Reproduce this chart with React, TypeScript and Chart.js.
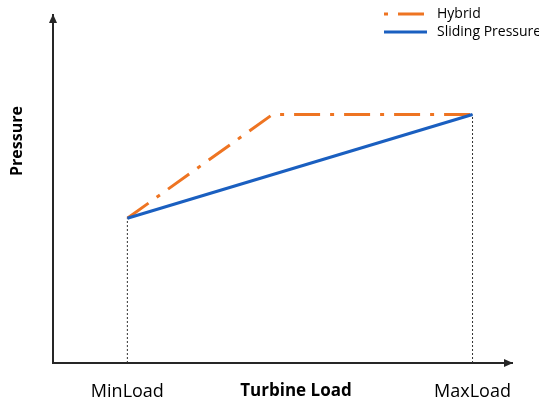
import React, { useEffect, useRef } from "react";
import { Chart, registerables } from "chart.js";

Chart.register(...registerables);

// ---- data ----
const xTickValues = [16.2, 91.4];
const xTickLabels = ["MinLoad", "MaxLoad"];
const hybridX = [16.2, 47.8, 91.4];
const hybridY = [41.6, 71.4, 71.4];
const slidingX = [16.2, 91.4];
const slidingY = [41.6, 71.4];
const seriesNames = ["Hybrid", "Sliding Pressure"];
const xTitle = "Turbine Load";
const yTitle = "Pressure";

const ORANGE = "#EE7422";
const BLUE = "#1A5FC0";
const AXIS = "#262626";
const HYBRID_DASH = [26, 10, 4, 10];
const FONT = "'Open Sans', 'Liberation Sans', sans-serif";

const decorPlugin = {
  id: "decor",
  afterDraw(chart: any) {
    const { ctx, chartArea } = chart;
    const { left, right, top, bottom } = chartArea;
    ctx.save();
    // arrow heads
    ctx.fillStyle = AXIS;
    ctx.beginPath();
    ctx.moveTo(left, top - 1);
    ctx.lineTo(left - 4, top + 8);
    ctx.lineTo(left + 4, top + 8);
    ctx.closePath();
    ctx.fill();
    ctx.beginPath();
    ctx.moveTo(right + 1, bottom);
    ctx.lineTo(right - 8, bottom - 4);
    ctx.lineTo(right - 8, bottom + 4);
    ctx.closePath();
    ctx.fill();

    // axis titles
    ctx.fillStyle = "#000";
    ctx.font = `bold 17px ${FONT}`;
    ctx.textAlign = "center";
    ctx.textBaseline = "middle";
    ctx.fillText(xTitle, 296, 391);
    ctx.save();
    ctx.translate(17, 141);
    ctx.rotate(-Math.PI / 2);
    ctx.font = `bold 16px ${FONT}`;
    ctx.fillText(yTitle, 0, 0);
    ctx.restore();

    // legend
    const ds = chart.data.datasets;
    const items = [
      { label: seriesNames[0], color: ds[0].borderColor, dash: ds[0].borderDash || [], y: 14 },
      { label: seriesNames[1], color: ds[1].borderColor, dash: ds[1].borderDash || [], y: 32 },
    ];
    ctx.font = `14px ${FONT}`;
    ctx.textAlign = "left";
    items.forEach((it) => {
      ctx.beginPath();
      ctx.strokeStyle = it.color;
      ctx.lineWidth = 3;
      ctx.lineCap = "butt";
      ctx.setLineDash(it.dash);
      ctx.lineDashOffset = it.dash.length ? 36 : 0;
      ctx.moveTo(384, it.y);
      ctx.lineTo(427, it.y);
      ctx.stroke();
      ctx.setLineDash([]);
      ctx.fillStyle = "#000";
      ctx.fillText(it.label, 437, it.y);
    });
    ctx.restore();
  },
};

export default function App() {
  const ref = useRef<HTMLCanvasElement>(null);
  useEffect(() => {
    if (!ref.current) return;
    const toPts = (xs: number[], ys: number[]) => xs.map((x, i) => ({ x, y: ys[i] }));
    const chart = new Chart(ref.current, {
      type: "line",
      data: {
        datasets: [
          {
            label: seriesNames[0],
            data: toPts(hybridX, hybridY),
            borderColor: ORANGE,
            borderWidth: 3,
            borderDash: HYBRID_DASH,
            pointRadius: 0,
            order: 1,
          },
          {
            label: seriesNames[1],
            data: toPts(slidingX, slidingY),
            borderColor: BLUE,
            borderWidth: 3,
            pointRadius: 0,
            order: 0,
          },
          {
            label: "min",
            data: [
              { x: slidingX[0], y: 0 },
              { x: slidingX[0], y: slidingY[0] },
            ],
            borderColor: "#333",
            borderWidth: 1,
            borderDash: [2, 2],
            pointRadius: 0,
            order: 3,
          },
          {
            label: "max",
            data: [
              { x: slidingX[1], y: 0 },
              { x: slidingX[1], y: slidingY[1] },
            ],
            borderColor: "#333",
            borderWidth: 1,
            borderDash: [2, 2],
            pointRadius: 0,
            order: 3,
          },
        ],
      },
      options: {
        animation: false,
        responsive: false,
        maintainAspectRatio: false,
        layout: { padding: { top: 15, right: 27, left: 0, bottom: 0 } },
        plugins: { legend: { display: false }, tooltip: { enabled: false } },
        scales: {
          x: {
            type: "linear",
            min: 0,
            max: 100,
            grid: { display: false, drawTicks: false },
            border: { display: true, color: AXIS, width: 2 },
            afterBuildTicks: (s: any) => {
              s.ticks = xTickValues.map((v) => ({ value: v }));
            },
            afterFit: (s: any) => {
              s.height = 40;
            },
            ticks: {
              padding: 18,
              color: "#000",
              font: { family: FONT, size: 18 },
              callback: (v: any) => xTickLabels[xTickValues.indexOf(Number(v))] ?? "",
            },
          },
          y: {
            type: "linear",
            min: 0,
            max: 100,
            grid: { display: false, drawTicks: false },
            border: { display: true, color: AXIS, width: 2 },
            ticks: { display: false },
            afterFit: (s: any) => {
              s.width = 53;
            },
          },
        },
      },
      plugins: [decorPlugin],
    } as any);
    return () => chart.destroy();
  }, []);
  return (
    <div style={{ position: "absolute", left: 0, top: 0, width: 539, height: 403, background: "#fff" }}>
      <canvas ref={ref} width={539} height={403} style={{ display: "block" }} />
    </div>
  );
}
